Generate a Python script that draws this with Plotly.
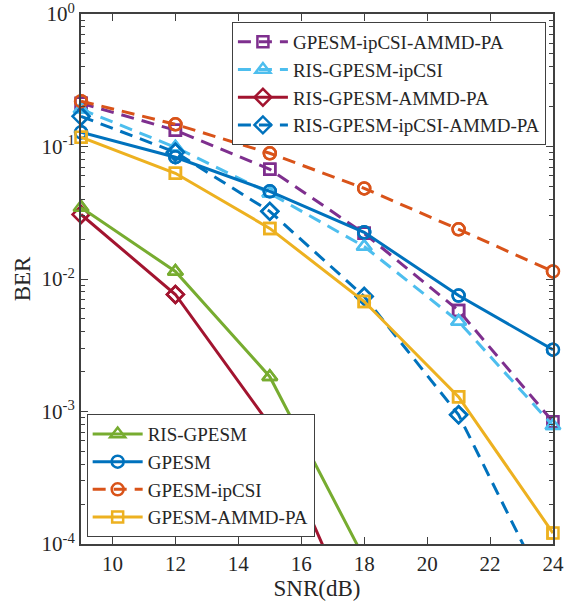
import plotly.graph_objects as go

snr = [9, 12, 15, 18, 21, 24]

ber_gpesm_ipcsi_ammd_pa = [0.212, 0.1327, 0.0673, 0.0221, 0.00578, 0.000836]
ber_ris_gpesm_ipcsi = [0.191, 0.0986, 0.0443, 0.0176, 0.00478, 0.00078]
ber_ris_gpesm_ammd_pa = [0.0307, 0.00764, 0.000794, 0.000019]
ber_ris_gpesm_ipcsi_ammd_pa = [0.169, 0.0905, 0.0324, 0.00738, 0.000944, 0.000035]
ber_ris_gpesm = [0.0347, 0.0114, 0.00183, 0.000078]
ber_gpesm = [0.128, 0.083, 0.0459, 0.0225, 0.0075, 0.00293]
ber_gpesm_ipcsi = [0.220, 0.147, 0.0889, 0.0483, 0.0237, 0.0114]
ber_gpesm_ammd_pa = [0.1175, 0.0628, 0.0241, 0.00676, 0.00129, 0.000121]

y_ticks = [1e-4, 1e-3, 1e-2, 1e-1, 1]
y_tick_text = ["10<sup>-4</sup>", "10<sup>-3</sup>", "10<sup>-2</sup>", "10<sup>-1</sup>", "10<sup>0</sup>"]
x_ticks = [10, 12, 14, 16, 18, 20, 22, 24]

BLUE = "#0072BD"
ORANGE = "#D95319"
YELLOW = "#EDB120"
PURPLE = "#7E2F8E"
GREEN = "#77AC30"
LBLUE = "#4DBEEE"
DRED = "#A2142F"

FONT = "Liberation Serif"
TXT = "#262626"
DASH = "13px,8px"
YMIN = 1e-4

series = [
    ("GPESM-ipCSI-AMMD-PA", ber_gpesm_ipcsi_ammd_pa, PURPLE, DASH, "square-open", 11, "legend"),
    ("RIS-GPESM-ipCSI", ber_ris_gpesm_ipcsi, LBLUE, DASH, "triangle-up-open", 13, "legend"),
    ("RIS-GPESM-AMMD-PA", ber_ris_gpesm_ammd_pa, DRED, "solid", "diamond-open", 13, "legend"),
    ("RIS-GPESM-ipCSI-AMMD-PA", ber_ris_gpesm_ipcsi_ammd_pa, BLUE, DASH, "diamond-open", 13, "legend"),
    ("RIS-GPESM", ber_ris_gpesm, GREEN, "solid", "triangle-up-open", 13, "legend2"),
    ("GPESM", ber_gpesm, BLUE, "solid", "circle-open", 12, "legend2"),
    ("GPESM-ipCSI", ber_gpesm_ipcsi, ORANGE, DASH, "circle-open", 12, "legend2"),
    ("GPESM-AMMD-PA", ber_gpesm_ammd_pa, YELLOW, "solid", "square-open", 11, "legend2"),
]

fig = go.Figure()
for name, ys, col, dash, sym, ms, leg in series:
    xs = snr[:len(ys)]
    fig.add_trace(go.Scatter(
        x=xs, y=ys, name=name, mode="lines+markers", legend=leg,
        line=dict(color=col, width=3, dash=dash),
        marker=dict(symbol=sym, size=ms, color=col, line=dict(color=col, width=2.5)),
        cliponaxis=True,
    ))
    mx = [x for x, y in zip(xs, ys) if y >= YMIN]
    my = [y for y in ys if y >= YMIN]
    fig.add_trace(go.Scatter(
        x=mx, y=my, mode="markers", showlegend=False, hoverinfo="skip",
        marker=dict(symbol=sym, size=ms, color=col, line=dict(color=col, width=2.5)),
        cliponaxis=False,
    ))

minor_vals = [m * 10 ** e for e in range(-4, 0) for m in range(2, 10)]

axis_common = dict(
    showgrid=False, zeroline=False, showline=True, linecolor="#404040", linewidth=2,
    mirror="ticks", ticks="inside", tickcolor="#404040", tickwidth=1,
    tickfont=dict(family=FONT, size=21, color=TXT), automargin=False,
    ticklabeloverflow="allow",
)

fig.update_xaxes(
    range=[9, 24], tickmode="array", tickvals=x_ticks, ticklen=7,
    title=dict(text="SNR(dB)", font=dict(family=FONT, size=23, color=TXT), standoff=0),
    **axis_common,
)
fig.update_yaxes(
    type="log", range=[-4, 0], tickmode="array", tickvals=y_ticks, ticktext=y_tick_text,
    ticklen=7,
    minor=dict(tickmode="array", tickvals=minor_vals, ticks="inside", ticklen=4,
               tickcolor="#404040", showgrid=False),
    title=dict(text="BER", font=dict(family=FONT, size=23, color=TXT), standoff=4),
    **axis_common,
)

legend_common = dict(
    bgcolor="white", bordercolor="#404040", borderwidth=1,
    font=dict(family=FONT, size=19, color=TXT),
    itemwidth=50, tracegroupgap=0,
)

fig.update_layout(
    width=569, height=607,
    margin=dict(l=81, r=16, t=14, b=63),
    paper_bgcolor="white", plot_bgcolor="white",
    legend=dict(x=0.985, y=0.985, xanchor="right", yanchor="top", **legend_common),
    legend2=dict(x=0.012, y=0.013, xanchor="left", yanchor="bottom", **legend_common),
)

fig.write_html("out.html", config={"displayModeBar": False},
               post_script="document.body.style.margin='0';")
